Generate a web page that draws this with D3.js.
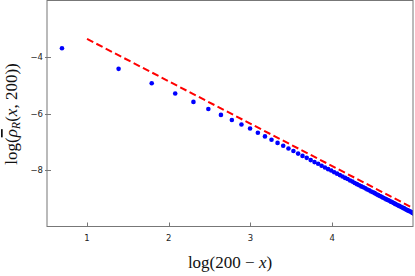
<!DOCTYPE html>
<html>
<head>
<meta charset="utf-8">
<script src="https://cdn.jsdelivr.net/npm/d3@7"></script>
<style>
  body { margin: 0; background: #fff; }
  svg { display: block; }
</style>
</head>
<body>
<div id="chart"></div>
<script>
// 200 - x values for the blue points (only those inside the frame)
var distances = [2, 4, 6, 8, 10, 12, 14, 16, 18, 20,
                 22, 24, 26, 28, 30, 32, 34, 36, 38, 40,
                 42, 44, 46, 48, 50, 52, 54, 56, 58, 60,
                 62, 64, 66, 68, 70, 72, 74, 76, 78, 80,
                 82, 84, 86, 88, 90, 92, 94, 96, 98, 100,
                 102, 104, 106, 108, 110, 112, 114, 116, 118, 120,
                 122, 124, 126, 128, 130, 132, 134, 136, 138, 140,
                 142, 144, 146, 148, 150, 152];

// log of mean density
var logRho = [-3.69, -4.42, -4.93, -5.29, -5.59, -5.84, -6.05, -6.23, -6.39, -6.53,
              -6.68, -6.81, -6.93, -7.04, -7.14, -7.24, -7.33, -7.42, -7.50, -7.57,
              -7.65, -7.72, -7.78, -7.85, -7.91, -7.97, -8.02, -8.08, -8.13, -8.18,
              -8.23, -8.28, -8.32, -8.37, -8.41, -8.46, -8.50, -8.54, -8.58, -8.61,
              -8.65, -8.69, -8.72, -8.76, -8.79, -8.82, -8.86, -8.89, -8.92, -8.95,
              -8.98, -9.01, -9.04, -9.06, -9.09, -9.12, -9.14, -9.17, -9.20, -9.22,
              -9.25, -9.27, -9.29, -9.32, -9.34, -9.36, -9.39, -9.41, -9.43, -9.45,
              -9.47, -9.49, -9.52, -9.54, -9.56, -9.58];

// red dashed reference line (slope -3/2)
var fitX = [1, 5];
var fitY = [-3.36, -9.36];

var xTicks = [1, 2, 3, 4];
var yTicks = [-4, -6, -8];

var width = 415, height = 276;
var plotLeft = 47, plotRight = 413, plotTop = 0.5, plotBottom = 226.5;

var svg = d3.select("#chart").append("svg")
            .attr("width", width)
            .attr("height", height);

var x = d3.scaleLinear().domain([0.51, 4.99]).range([plotLeft, plotRight]);
var y = d3.scaleLinear().domain([-10, -2]).range([plotBottom, plotTop]);

svg.append("clipPath")
   .attr("id", "plotclip")
   .append("rect")
   .attr("x", plotLeft)
   .attr("y", plotTop)
   .attr("width", plotRight - plotLeft)
   .attr("height", plotBottom - plotTop);

var plot = svg.append("g").attr("clip-path", "url(#plotclip)");

var points = distances.map(function (d, i) { return [Math.log(d), logRho[i]]; });

plot.selectAll("circle")
    .data(points)
    .enter()
    .append("circle")
    .attr("cx", function (d) { return x(d[0]); })
    .attr("cy", function (d) { return y(d[1]); })
    .attr("r", 2.3)
    .style("fill", "#0000ff");

var line = d3.line()
             .x(function (d) { return x(d[0]); })
             .y(function (d) { return y(d[1]); });

plot.append("path")
    .datum(fitX.map(function (d, i) { return [d, fitY[i]]; }))
    .attr("d", line)
    .style("fill", "none")
    .style("stroke", "#ff0000")
    .style("stroke-width", 2)
    .style("stroke-dasharray", "7,3.5");

// frame
svg.append("rect")
   .attr("x", plotLeft)
   .attr("y", plotTop)
   .attr("width", plotRight - plotLeft)
   .attr("height", plotBottom - plotTop)
   .style("fill", "none")
   .style("stroke", "#777")
   .style("stroke-width", 1);

// x ticks and labels
var xAxis = svg.append("g");
xAxis.selectAll("line")
     .data(xTicks)
     .enter()
     .append("line")
     .attr("x1", function (d) { return Math.round(x(d)) + 0.5; })
     .attr("x2", function (d) { return Math.round(x(d)) + 0.5; })
     .attr("y1", plotBottom)
     .attr("y2", plotBottom - 4)
     .style("stroke", "#777");
xAxis.selectAll("text")
     .data(xTicks)
     .enter()
     .append("text")
     .attr("x", function (d) { return x(d); })
     .attr("y", plotBottom + 14)
     .attr("text-anchor", "middle")
     .style("font-family", "DejaVu Sans, sans-serif")
     .style("font-size", "8.5px")
     .style("fill", "#222")
     .text(function (d) { return d; });

// y ticks and labels
var yAxis = svg.append("g");
yAxis.selectAll("line")
     .data(yTicks)
     .enter()
     .append("line")
     .attr("x1", plotLeft - 2)
     .attr("x2", plotLeft + 4)
     .attr("y1", function (d) { return Math.round(y(d)) + 0.5; })
     .attr("y2", function (d) { return Math.round(y(d)) + 0.5; })
     .style("stroke", "#777");
yAxis.selectAll("text")
     .data(yTicks)
     .enter()
     .append("text")
     .attr("x", plotLeft - 4)
     .attr("y", function (d) { return y(d) + 3; })
     .attr("text-anchor", "end")
     .style("font-family", "DejaVu Sans, sans-serif")
     .style("font-size", "8.5px")
     .style("fill", "#222")
     .text(function (d) { return "\u2212" + Math.abs(d); });

// axis titles
var xTitle = svg.append("text")
                .attr("x", 230)
                .attr("y", 268)
                .attr("text-anchor", "middle")
                .style("font-family", "Liberation Serif, serif")
                .style("font-size", "17px")
                .style("fill", "#111");
xTitle.append("tspan").text("log(200 \u2212 ");
xTitle.append("tspan").style("font-style", "italic").text("x");
xTitle.append("tspan").text(")");

var yTitle = svg.append("text")
                .attr("transform", "translate(17,114) rotate(-90)")
                .attr("text-anchor", "middle")
                .style("font-family", "Liberation Serif, serif")
                .style("font-size", "17px")
                .style("fill", "#111");
yTitle.append("tspan").text("log(");
yTitle.append("tspan").style("font-style", "italic").style("text-decoration", "overline").text("\u03c1");
yTitle.append("tspan").style("font-style", "italic").style("font-size", "12px").attr("dy", 3).text("R");
yTitle.append("tspan").attr("dy", -3).text("(");
yTitle.append("tspan").style("font-style", "italic").text("x");
yTitle.append("tspan").text(", 200))");
</script>
</body>
</html>
